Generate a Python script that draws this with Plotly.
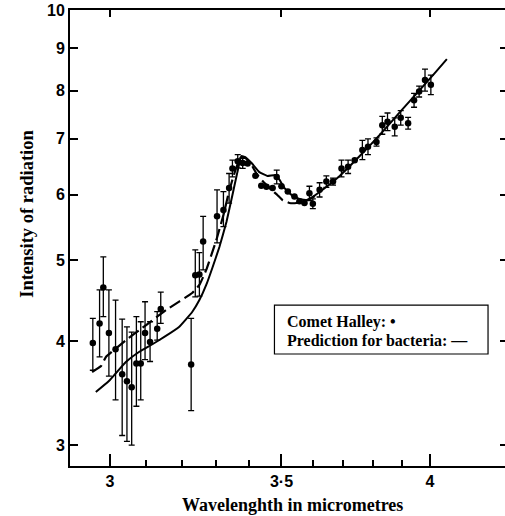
import plotly.graph_objects as go

# ---- Comet Halley observations ----
wavelength = [2.954, 2.972, 2.982, 2.997, 3.015, 3.033, 3.046, 3.059, 3.072, 3.084,
              3.096, 3.110, 3.130, 3.140, 3.227, 3.239, 3.251, 3.262, 3.303, 3.322,
              3.339, 3.349, 3.365, 3.380, 3.395, 3.419, 3.437, 3.453, 3.472, 3.485,
              3.500, 3.520, 3.541, 3.557, 3.573, 3.589, 3.600, 3.622, 3.644, 3.666,
              3.694, 3.716, 3.738, 3.764, 3.783, 3.812, 3.832, 3.850, 3.875, 3.896,
              3.922, 3.943, 3.961, 3.982, 4.003]
intensity = [3.98, 4.20, 4.64, 4.09, 3.91, 3.65, 3.58, 3.52, 3.76, 3.76,
             4.09, 3.99, 4.14, 4.37, 3.75, 4.80, 4.81, 5.27, 5.65, 5.75,
             6.11, 6.45, 6.58, 6.55, 6.54, 6.32, 6.15, 6.13, 6.11, 6.30,
             6.14, 6.05, 5.97, 5.89, 5.86, 6.02, 5.85, 6.08, 6.22, 6.22,
             6.45, 6.48, 6.60, 6.79, 6.85, 6.94, 7.27, 7.34, 7.24, 7.42,
             7.31, 7.79, 7.98, 8.24, 8.13]
err_plus = [0.28, 0.41, 0.41, 0.52, 0.57, 0.60, 0.58, 0.58, 0.52, 0.46,
            0.37, 0.23, 0.20, 0.21, 0.51, 0.35, 0.30, 0.38, 0.43, 0.30,
            0.25, 0.15, 0.12, 0.10, 0, 0, 0, 0, 0, 0.12,
            0, 0, 0, 0, 0, 0.12, 0.08, 0.12, 0.10, 0.06,
            0.15, 0.12, 0, 0.18, 0.15, 0.08, 0.18, 0.18, 0.18, 0.15,
            0.12, 0.15, 0.12, 0.25, 0.22]
err_minus = [0.29, 0.37, 0.36, 0.46, 0.51, 0.57, 0.55, 0.52, 0.42, 0.36,
             0.29, 0.21, 0.13, 0.17, 0.45, 0.28, 0.28, 0.40, 0.40, 0.26,
             0.25, 0.15, 0.12, 0.10, 0, 0, 0, 0, 0, 0.12,
             0, 0, 0, 0, 0, 0.12, 0.08, 0.12, 0.10, 0.06,
             0.15, 0.12, 0, 0.18, 0.15, 0.08, 0.18, 0.18, 0.18, 0.15,
             0.12, 0.15, 0.12, 0.25, 0.22]

# ---- Prediction for bacteria (solid) ----
model_x = [2.962, 2.997, 3.043, 3.079, 3.113, 3.150, 3.192, 3.230, 3.251, 3.271,
           3.289, 3.310, 3.331, 3.349, 3.364, 3.376, 3.388, 3.407, 3.431, 3.456,
           3.481, 3.494, 3.509, 3.532, 3.557, 3.583, 3.622, 3.688, 3.755, 3.823,
           3.893, 3.963, 4.017, 4.061]
model_y = [3.474, 3.581, 3.775, 3.881, 3.957, 4.046, 4.159, 4.335, 4.481, 4.672,
           4.897, 5.190, 5.562, 5.993, 6.385, 6.675, 6.657, 6.548, 6.385, 6.317,
           6.335, 6.248, 6.111, 5.993, 5.927, 5.911, 6.042, 6.317, 6.675, 7.075,
           7.539, 8.014, 8.399, 8.731]

# ---- second (dashed) curve ----
dash_x = [2.952, 2.976, 2.989, 3.044, 3.099, 3.155, 3.230, 3.251, 3.271, 3.301,
          3.322, 3.340, 3.358, 3.373, 3.388, 3.407, 3.425, 3.447, 3.469, 3.487,
          3.503, 3.525, 3.548, 3.573, 3.596, 3.622]
dash_y = [3.672, 3.734, 3.828, 4.012, 4.182, 4.359, 4.569, 4.672, 4.870, 5.292,
          5.671, 6.077, 6.421, 6.638, 6.638, 6.512, 6.335, 6.195, 6.077, 5.993,
          5.911, 5.862, 5.862, 5.894, 5.943, 6.027]

x_major = [3, 3.5, 4]
x_major_text = ["3", "3·5", "4"]
x_minor = [3.1, 3.2, 3.3, 3.4, 3.6, 3.7, 3.8, 3.9]
y_ticks = [3, 4, 5, 6, 7, 8, 9, 10]
y_ticks_right = [3, 4, 5, 6, 7, 8, 9]

XR = [0.46150, 0.63133]
YR = [0.45192, 1.0]

SERIF = "Liberation Serif, Times New Roman, serif"
tick_font = dict(family="Liberation Sans, Arial, sans-serif", size=16, color="black", weight="bold")

fig = go.Figure()
fig.add_trace(go.Scatter(x=model_x, y=model_y, mode="lines",
                         line=dict(color="black", width=2, shape="spline", smoothing=0.3),
                         hoverinfo="skip"))
fig.add_trace(go.Scatter(x=dash_x, y=dash_y, mode="lines",
                         line=dict(color="black", width=2.2, dash="12px,5px", shape="spline", smoothing=0.3),
                         hoverinfo="skip"))
fig.add_trace(go.Scatter(x=wavelength, y=intensity, mode="markers",
                         marker=dict(color="black", size=6.5),
                         error_y=dict(type="data", symmetric=False, array=err_plus,
                                      arrayminus=err_minus, color="black",
                                      thickness=1.3, width=3)))
# invisible trace to anchor the top and right tick axes
fig.add_trace(go.Scatter(x=wavelength, y=intensity, mode="markers", xaxis="x2", yaxis="y2",
                         marker=dict(opacity=0), hoverinfo="skip"))

fig.update_layout(
    width=505, height=516,
    margin=dict(l=70, r=0, t=10, b=50),
    paper_bgcolor="white", plot_bgcolor="white",
    showlegend=False,
    xaxis=dict(type="log", range=XR, tickvals=x_major, ticktext=x_major_text,
               ticks="inside", ticklen=12, tickwidth=2, tickcolor="black",
               minor=dict(tickvals=x_minor, ticks="inside", ticklen=6, tickwidth=1.5, tickcolor="black"),
               showline=True, linecolor="black", linewidth=2, mirror=False,
               showgrid=False, zeroline=False, tickfont=tick_font, automargin=False),
    yaxis=dict(type="log", range=YR, tickvals=y_ticks, ticktext=[str(v) for v in y_ticks],
               ticks="inside", ticklen=8, tickwidth=2, tickcolor="black",
               showline=True, linecolor="black", linewidth=2, mirror=False,
               showgrid=False, zeroline=False, tickfont=tick_font, automargin=False),
    xaxis2=dict(type="log", range=XR, overlaying="x", side="top", tickvals=x_major,
                ticks="inside", ticklen=7, tickwidth=2, tickcolor="black",
                showticklabels=False, showline=True, linecolor="black", linewidth=2,
                showgrid=False, zeroline=False, automargin=False),
    yaxis2=dict(type="log", range=YR, overlaying="y", side="right", tickvals=y_ticks_right,
                ticks="inside", ticklen=5, tickwidth=2, tickcolor="black",
                showticklabels=False, showline=True, linecolor="black", linewidth=2,
                showgrid=False, zeroline=False, automargin=False),
)

# axis titles
fig.add_annotation(xref="paper", yref="paper", x=0.5126, y=-0.0855, xanchor="center", yanchor="middle",
                   showarrow=False, text="Wavelenghth in micrometres",
                   font=dict(family=SERIF, size=18, color="black", weight="bold"))
fig.add_annotation(xref="paper", yref="paper", x=-0.0989, y=0.553, xanchor="center", yanchor="middle",
                   showarrow=False, textangle=-90, text="Intensity of radiation",
                   font=dict(family=SERIF, size=18.5, color="black", weight="bold"))

# legend box
fig.add_shape(type="rect", xref="paper", yref="paper", x0=0.470, x1=0.961, y0=0.2456, y1=0.353,
              line=dict(color="black", width=1.2), fillcolor="white", layer="above")
legend_font = dict(family=SERIF, size=16, color="black", weight="bold")
fig.add_annotation(xref="paper", yref="paper", x=0.4943, y=0.3164, xanchor="left", yanchor="middle",
                   showarrow=False, align="left", text="Comet Halley: •", font=legend_font)
fig.add_annotation(xref="paper", yref="paper", x=0.4943, y=0.2763, xanchor="left", yanchor="middle",
                   showarrow=False, align="left", text="Prediction for bacteria: —", font=legend_font)

fig.write_html("out.html", config={"displayModeBar": False},
               post_script="document.body.style.margin='0';document.documentElement.style.overflow='hidden';document.body.style.overflow='hidden';")
